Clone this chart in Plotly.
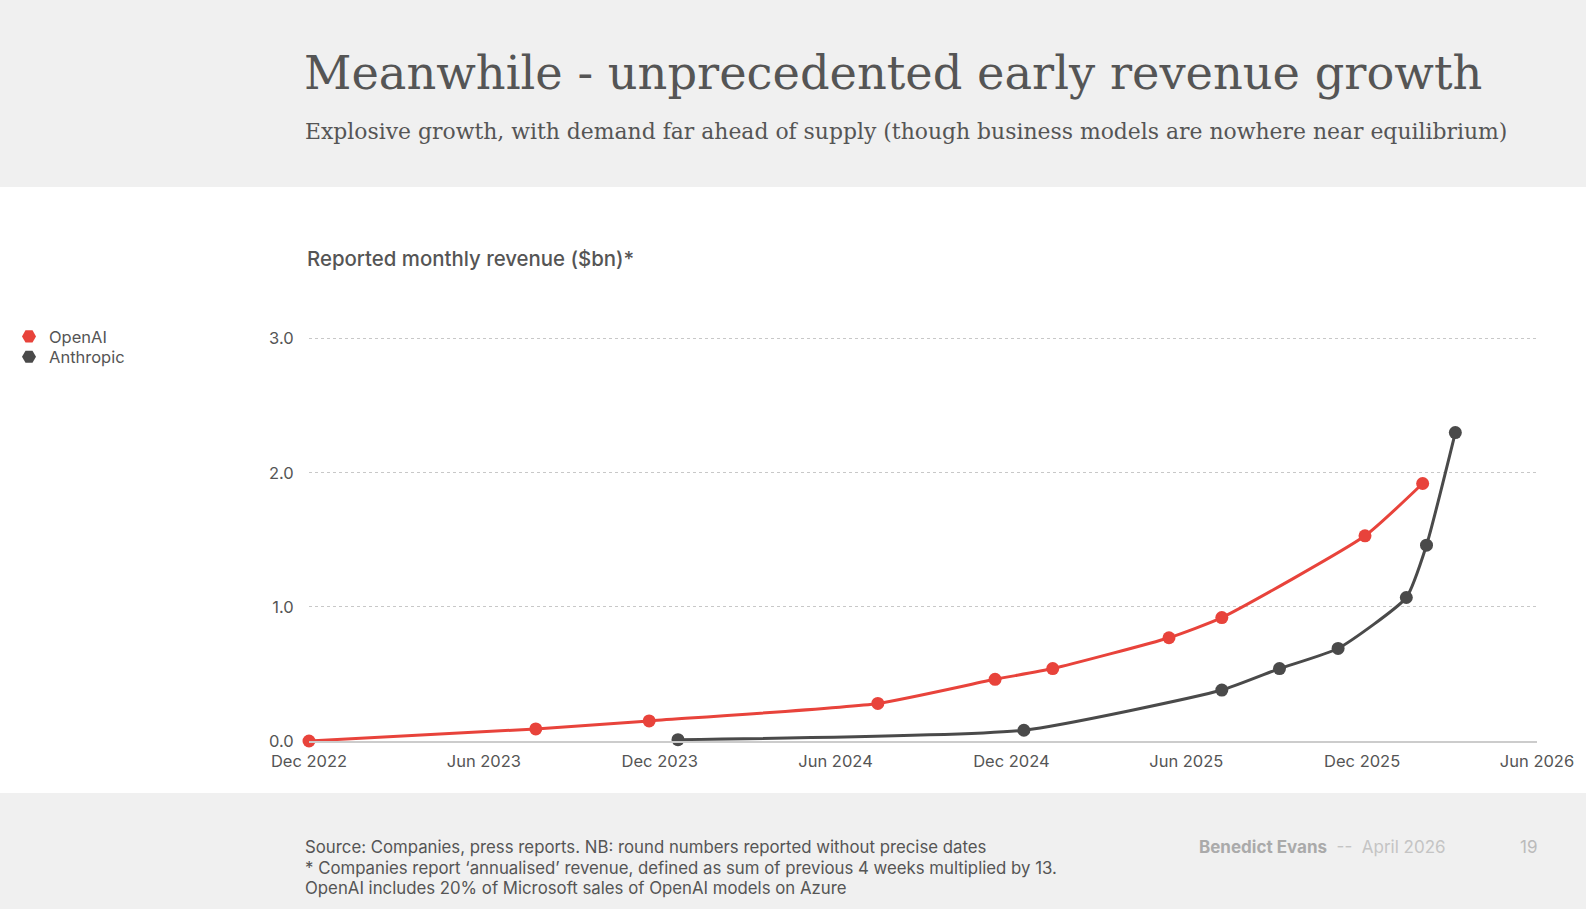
import plotly.graph_objects as go

# --- data ---
openai_dates = ["2022-12-01", "2023-07-25", "2023-11-20", "2024-07-15", "2024-11-14",
                "2025-01-13", "2025-05-14", "2025-07-08", "2025-12-04", "2026-02-02"]
openai_revenue = [0.0, 0.09, 0.15, 0.28, 0.46, 0.54, 0.77, 0.92, 1.53, 1.92]

anthropic_dates = ["2023-12-20", "2024-12-14", "2025-07-08", "2025-09-06", "2025-11-06",
                   "2026-01-16", "2026-02-06", "2026-03-08"]
anthropic_revenue = [0.01, 0.08, 0.38, 0.54, 0.69, 1.07, 1.46, 2.30]

y_ticks = [0, 1, 2, 3]
y_tick_labels = ["0.0", "1.0", "2.0", "3.0"]

footnotes = [
    "Source: Companies, press reports. NB: round numbers reported without precise dates",
    "* Companies report ‘annualised’ revenue, defined as sum of previous 4 weeks multiplied by 13.",
    "OpenAI includes 20% of Microsoft sales of OpenAI models on Azure",
]

RED = "#e8433b"
DARK = "#4a4a4a"
TEXT = "#555555"
BAND = "#f0f0f0"
SANS = "Inter, Roboto, sans-serif"
SERIF = "DejaVu Serif, serif"

W, H = 1586, 909
L, R, T, B = 308.5, 39, 336, 168
PW, PH = W - L - R, H - T - B


def px_x(p):
    return (p - L) / PW


def px_y(p):
    return (H - B - p) / PH


fig = go.Figure()

series = [
    ("OpenAI", openai_dates, openai_revenue, RED, "legend"),
    ("Anthropic", anthropic_dates, anthropic_revenue, DARK, "legend2"),
]
for name, dates, vals, color, leg in series:
    fig.add_trace(go.Scatter(
        x=dates, y=vals, name=name, mode="lines+markers",
        line=dict(color=color, width=3, shape="spline", smoothing=0.5),
        marker=dict(color=color, size=13),
        cliponaxis=False, showlegend=False,
    ))
    # legend-only entry, one legend per series so the rows sit tight
    fig.add_trace(go.Scatter(
        x=[None], y=[None], name=name, mode="markers", legend=leg,
        marker=dict(color=color, size=14, symbol="hexagon2"),
    ))

# white middle band between grey header and footer
fig.add_shape(type="rect", xref="paper", yref="paper", layer="below",
              x0=px_x(-50), x1=px_x(W + 50), y0=px_y(793), y1=px_y(187),
              fillcolor="white", line=dict(width=0))

annotations = [
    dict(text="Meanwhile - unprecedented early revenue growth", x=px_x(301.5), y=px_y(73),
         font=dict(family=SERIF, size=46.3, color=TEXT)),
    dict(text="Explosive growth, with demand far ahead of supply "
              "(though business models are nowhere near equilibrium)",
         x=px_x(302.5), y=px_y(131.5), font=dict(family=SERIF, size=21.9, color=TEXT)),
    dict(text="Reported monthly revenue ($bn)*", x=px_x(304), y=px_y(259),
         font=dict(family=SANS, size=20.4, color=TEXT, weight=500)),
    dict(text="<b>Benedict Evans</b>  <span style='color:#c4c4c4'>--  April 2026</span>",
         x=px_x(1204), y=px_y(847), font=dict(family=SANS, size=17, color="#aaaaaa")),
    dict(text="19", x=px_x(1549.5), y=px_y(847), xanchor="right",
         font=dict(family=SANS, size=17, color="#bbbbbb")),
]
for i, line in enumerate(footnotes):
    annotations.append(dict(text=line, x=px_x(302), y=px_y(846.8 + 20.7 * i),
                            font=dict(family=SANS, size=16.8, color=TEXT)))
for a in annotations:
    a.setdefault("xanchor", "left")
    fig.add_annotation(xref="paper", yref="paper", yanchor="middle", showarrow=False, **a)

fig.update_xaxes(
    range=["2022-12-01", "2026-06-01"], tick0="2022-12-01", dtick="M6",
    tickformat="%b %Y", showgrid=False, showline=True, linecolor="#cccccc", linewidth=1.5,
    ticks="outside", ticklen=4, tickcolor="rgba(0,0,0,0)",
    tickfont=dict(family=SANS, size=16.5, color=TEXT), zeroline=False,
)
fig.update_yaxes(
    range=[0, 3.02], tickvals=y_ticks, ticktext=y_tick_labels,
    showgrid=True, gridcolor="#c8c8c8", griddash="dot", gridwidth=1,
    zeroline=False, ticks="outside", ticklen=11, tickcolor="rgba(0,0,0,0)",
    tickfont=dict(family=SANS, size=16.5, color=TEXT),
)

legend_style = dict(xref="container", yref="container", x=9 / W,
                    xanchor="left", yanchor="middle", bgcolor="rgba(0,0,0,0)",
                    font=dict(family=SANS, size=16.5, color=TEXT), itemwidth=30)
fig.update_layout(
    width=W, height=H,
    margin=dict(l=L, r=R, t=T, b=B),
    paper_bgcolor=BAND, plot_bgcolor="white",
    legend=dict(y=1 - 336.7 / H, **legend_style),
    legend2=dict(y=1 - 357 / H, **legend_style),
)

fig.write_html("out.html", config={"displayModeBar": False},
               post_script="document.body.style.margin='0';"
                           "document.body.style.overflow='hidden';")
